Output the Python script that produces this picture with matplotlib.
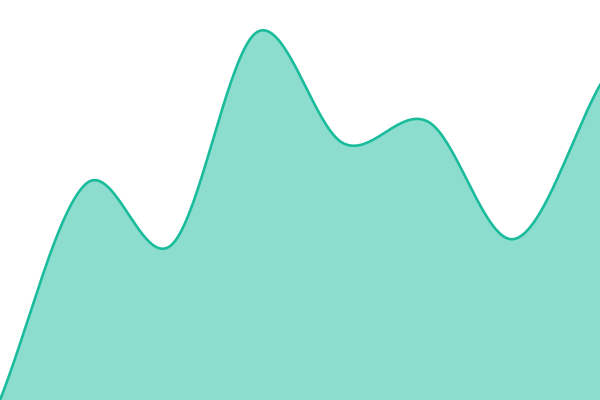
import matplotlib
matplotlib.use("Agg")
import matplotlib.pyplot as plt
import numpy as np

# data points (equally spaced)
x_pos = [0, 1, 2, 3, 4, 5, 6, 7]
values = [0, 216, 155, 368, 257, 278, 161, 315]

line_color = "#1abc9c"


def catmull_rom(xs, ys, steps=40):
    # smooth curve through every point, ends extended linearly
    xs = np.asarray(xs, float)
    ys = np.asarray(ys, float)
    px = np.concatenate([[2 * xs[0] - xs[1]], xs, [2 * xs[-1] - xs[-2]]])
    py = np.concatenate([[2 * ys[0] - ys[1]], ys, [2 * ys[-1] - ys[-2]]])
    out_x, out_y = [], []
    t = np.linspace(0, 1, steps, endpoint=False)
    for i in range(1, len(px) - 2):
        for p, out in ((px, out_x), (py, out_y)):
            p0, p1, p2, p3 = p[i - 1], p[i], p[i + 1], p[i + 2]
            out.extend(0.5 * ((2 * p1) + (-p0 + p2) * t
                              + (2 * p0 - 5 * p1 + 4 * p2 - p3) * t ** 2
                              + (-p0 + 3 * p1 - 3 * p2 + p3) * t ** 3))
    out_x.append(xs[-1])
    out_y.append(ys[-1])
    return np.array(out_x), np.array(out_y)


sx, sy = catmull_rom(x_pos, values)

fig = plt.figure(figsize=(6, 4), dpi=100)
ax = fig.add_axes([0, 0, 1, 1])
ax.fill_between(sx, sy, 0, color=line_color, alpha=0.5, linewidth=0)
ax.plot(sx, sy, color=line_color, linewidth=1.9)
ax.set_xlim(0, 7)
ax.set_ylim(0, 400)
ax.axis("off")
fig.savefig("out.png", dpi=100)
